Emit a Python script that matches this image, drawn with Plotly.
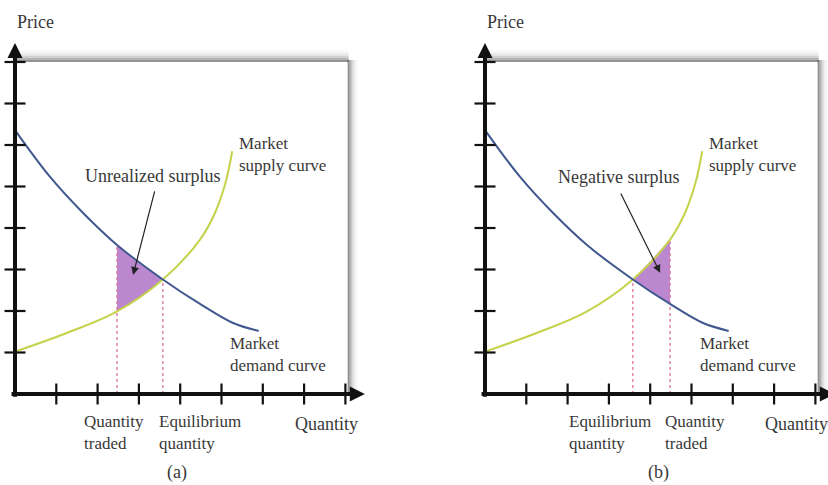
import plotly.graph_objects as go

# ---------------- data ----------------
tick_positions = [1, 2, 3, 4, 5, 6, 7, 8]

demand_q = [0, 0.85, 1.65, 2.47, 3.58, 4.48, 5.28, 5.9]
demand_p = [6.36, 5.23, 4.36, 3.59, 2.76, 2.17, 1.71, 1.52]

supply_q = [0, 1.25, 2.45, 3.58, 4.48, 4.85, 5.1, 5.26]
supply_p = [1.02, 1.47, 1.98, 2.76, 3.72, 4.38, 5.1, 5.85]

equilibrium_q = 3.58
equilibrium_p = 2.76

# panel (a): quantity traded below equilibrium -> unrealized surplus
a_region_q = [2.47, 3.0, 3.58]
a_region_demand = [3.59, 3.15, 2.76]
a_region_supply = [1.99, 2.3, 2.76]

# panel (b): quantity traded above equilibrium -> negative surplus
b_region_q = [3.58, 4.0, 4.48]
b_region_supply = [2.76, 3.2, 3.72]
b_region_demand = [2.76, 2.46, 2.17]

panel_labels = ["(a)", "(b)"]
surplus_labels = ["Unrealized surplus", "Negative surplus"]

# ---------------- styling ----------------
FONT = "Liberation Serif"
TXT = "#383838"
DEMAND_C = "#40588f"
SUPPLY_C = "#c4d24a"
SHADE_C = "#bb88cf"
DASH_C = "#e0709a"
PX_X = 41.3   # pixels per unit along quantity
PX_Y = 41.5   # pixels per unit along price

fig = go.Figure()


def add_panel(xa, ya, reg_q, reg_low, reg_high, traded_q, traded_top):
    fig.add_trace(go.Scatter(x=reg_q, y=reg_low, mode="lines",
                             line=dict(width=0, shape="spline"),
                             xaxis=xa, yaxis=ya, hoverinfo="skip"))
    fig.add_trace(go.Scatter(x=reg_q, y=reg_high, mode="lines",
                             line=dict(width=0, shape="spline"),
                             fill="tonexty", fillcolor=SHADE_C,
                             xaxis=xa, yaxis=ya, hoverinfo="skip"))
    for q, top in [(equilibrium_q, equilibrium_p), (traded_q, traded_top)]:
        fig.add_trace(go.Scatter(x=[q, q], y=[0, top], mode="lines",
                                 line=dict(color=DASH_C, width=1.3, dash="3px,3px"),
                                 xaxis=xa, yaxis=ya, hoverinfo="skip"))
    fig.add_trace(go.Scatter(x=supply_q, y=supply_p, mode="lines",
                             line=dict(color=SUPPLY_C, width=2, shape="spline", smoothing=1),
                             xaxis=xa, yaxis=ya))
    fig.add_trace(go.Scatter(x=demand_q, y=demand_p, mode="lines",
                             line=dict(color=DEMAND_C, width=2, shape="spline"),
                             xaxis=xa, yaxis=ya))
    fig.add_trace(go.Scatter(x=[0] * len(tick_positions), y=tick_positions, mode="markers",
                             marker=dict(symbol="line-ew", size=15,
                                         line=dict(color="#111", width=2.2)),
                             xaxis=xa, yaxis=ya, hoverinfo="skip"))
    fig.add_trace(go.Scatter(x=tick_positions, y=[0] * len(tick_positions), mode="markers",
                             marker=dict(symbol="line-ns", size=15,
                                         line=dict(color="#111", width=2.2)),
                             xaxis=xa, yaxis=ya, hoverinfo="skip"))


add_panel("x", "y", a_region_q, a_region_supply, a_region_demand,
          a_region_q[0], a_region_demand[0])
add_panel("x2", "y2", b_region_q, b_region_demand, b_region_supply,
          b_region_q[-1], b_region_supply[-1])

shapes = []
annotations = []


def text(xr, yr, x, y, s, anchor="left", size=18):
    annotations.append(dict(xref=xr, yref=yr, x=x, y=y, text=s, xanchor=anchor,
                            yanchor="middle", showarrow=False, align="left",
                            font=dict(size=size)))


def block(xr, yr, x, y_mid, lines):
    text(xr, yr, x, y_mid, "<br>".join(lines), size=17)


box_w = 8.03
box_h = 8.0
for xr, yr in [("x", "y"), ("x2", "y2")]:
    for k, op in [(1, 0.42), (3, 0.3), (5, 0.18), (7, 0.1), (9, 0.05), (11, 0.025)]:
        shapes.append(dict(type="line", xref=xr, yref=yr, layer="below",
                           x0=0, x1=box_w + 2 / PX_X, y0=box_h + k / PX_Y, y1=box_h + k / PX_Y,
                           line=dict(color=f"rgba(0,0,0,{op})", width=2)))
    for k, op in [(2, 0.42), (4, 0.28), (6, 0.15), (8, 0.07), (10, 0.03)]:
        shapes.append(dict(type="line", xref=xr, yref=yr, layer="below",
                           x0=box_w + k / PX_X, x1=box_w + k / PX_X, y0=0, y1=box_h + 2 / PX_Y,
                           line=dict(color=f"rgba(0,0,0,{op})", width=2)))
    annotations.append(dict(xref=xr, yref=yr, axref=xr, ayref=yr,
                            x=8.47, y=0, ax=-0.12, ay=0, text="", showarrow=True,
                            arrowhead=2, arrowsize=0.75, arrowwidth=4, arrowcolor="#111"))
    annotations.append(dict(xref=xr, yref=yr, axref=xr, ayref=yr,
                            x=0, y=8.46, ax=0, ay=-0.1, text="", showarrow=True,
                            arrowhead=2, arrowsize=0.75, arrowwidth=4, arrowcolor="#111"))
    text(xr, yr, 0.0, 8.96, "Price")
    block(xr, yr, 5.375, 5.76, ["Market", "supply curve"])
    block(xr, yr, 5.16, 0.94, ["Market", "demand curve"])

# panel (a)
text("x", "y", 3.34, 5.25, surplus_labels[0], anchor="center")
annotations.append(dict(xref="x", yref="y", axref="x", ayref="y", x=2.86, y=2.87, ax=3.39, ay=4.92,
                        text="", showarrow=True, arrowhead=2, arrowsize=1.3, arrowwidth=1.2,
                        arrowcolor="#222"))
block("x", "y", 1.62, -0.93, ["Quantity", "traded"])
block("x", "y", 3.44, -0.93, ["Equilibrium", "quantity"])
text("x", "y", 6.73, -0.723, "Quantity")
text("x", "y", 3.92, -1.88, panel_labels[0], anchor="center")

# panel (b)
text("x2", "y2", 3.24, 5.22, surplus_labels[1], anchor="center")
annotations.append(dict(xref="x2", yref="y2", axref="x2", ayref="y2", x=4.24, y=2.92, ax=3.27, ay=4.87,
                        text="", showarrow=True, arrowhead=2, arrowsize=1.3, arrowwidth=1.2,
                        arrowcolor="#222"))
block("x2", "y2", 1.99, -0.93, ["Equilibrium", "quantity"])
block("x2", "y2", 4.31, -0.93, ["Quantity", "traded"])
text("x2", "y2", 6.72, -0.723, "Quantity")
text("x2", "y2", 4.19, -1.88, panel_labels[1], anchor="center")

axis_common = dict(visible=False, showgrid=False, zeroline=False, fixedrange=True)
fig.update_layout(
    width=828, height=485,
    margin=dict(l=0, r=0, t=0, b=0),
    paper_bgcolor="white", plot_bgcolor="white",
    showlegend=False,
    font=dict(family=FONT, size=18, color=TXT),
    xaxis=dict(domain=[0, 0.5], range=[-15 / PX_X, (414 - 15) / PX_X], **axis_common),
    yaxis=dict(domain=[0, 1], range=[-(485 - 394) / PX_Y, 394 / PX_Y], **axis_common),
    xaxis2=dict(domain=[0.5, 1], range=[-(485 - 414) / PX_X, (828 - 485) / PX_X],
                anchor="y2", **axis_common),
    yaxis2=dict(domain=[0, 1], range=[-(485 - 394) / PX_Y, 394 / PX_Y],
                anchor="x2", **axis_common),
    shapes=shapes,
    annotations=annotations,
)

fig.write_html("out.html", config={"displayModeBar": False},
               post_script="document.body.style.margin='0';document.body.style.overflow='hidden';")
